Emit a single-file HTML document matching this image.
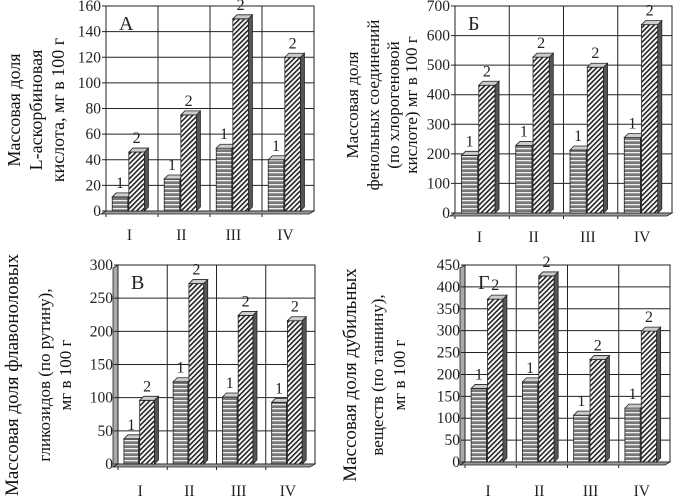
<!DOCTYPE html>
<html><head><meta charset="utf-8"><style>
body{margin:0;background:#fff}
svg{display:block;font-family:"Liberation Serif","DejaVu Serif",serif}
</style></head><body>
<svg id="c" width="682" height="502" viewBox="0 0 682 502">
<defs>
<pattern id="hs" width="6" height="4" patternUnits="userSpaceOnUse"><rect width="6" height="4" fill="#777"/><rect width="6" height="1.3" fill="#eee"/></pattern>
<pattern id="dg" width="3.5" height="3.5" patternUnits="userSpaceOnUse" patternTransform="rotate(45)"><rect width="3.5" height="3.5" fill="#fff"/><rect width="1.6" height="3.5" fill="#222"/></pattern>
</defs>
<g id="root"></g>
<g fill="#111">
<text transform="translate(20,110) rotate(-90)" text-anchor="middle" font-size="18">Массовая доля</text>
<text transform="translate(42,110) rotate(-90)" text-anchor="middle" font-size="18">L-аскорбиновая</text>
<text transform="translate(64,110) rotate(-90)" text-anchor="middle" font-size="18">кислота, мг в 100 г</text>
<text transform="translate(358,105) rotate(-90)" text-anchor="middle" font-size="17">Массовая доля</text>
<text transform="translate(379,105) rotate(-90)" text-anchor="middle" font-size="17">фенольных соединений</text>
<text transform="translate(399,105) rotate(-90)" text-anchor="middle" font-size="17">(по хлорогеновой</text>
<text transform="translate(417,105) rotate(-90)" text-anchor="middle" font-size="17">кислоте) мг в 100 г</text>
<text transform="translate(18,375) rotate(-90)" text-anchor="middle" font-size="19">Массовая доля флавоноловых</text>
<text transform="translate(50,375) rotate(-90)" text-anchor="middle" font-size="17">гликозидов (по рутину),</text>
<text transform="translate(71,375) rotate(-90)" text-anchor="middle" font-size="17">мг в 100 г</text>
<text transform="translate(356,375) rotate(-90)" text-anchor="middle" font-size="19">Массовая доля дубильных</text>
<text transform="translate(383,375) rotate(-90)" text-anchor="middle" font-size="17">веществ (по таннину),</text>
<text transform="translate(405,375) rotate(-90)" text-anchor="middle" font-size="17">мг в 100 г</text>
</g>
</svg>
<script>
const categories = ["I","II","III","IV"];
const aSeries1 = [11,25,49,40];
const aSeries2 = [46,75,150,120];
const aTicks = [0,20,40,60,80,100,120,140,160];
const bSeries1 = [195,228,213,255];
const bSeries2 = [432,527,493,637];
const bTicks = [0,100,200,300,400,500,600,700];
const vSeries1 = [38,124,101,93];
const vSeries2 = [96,272,224,216];
const vTicks = [0,50,100,150,200,250,300];
const gSeries1 = [168,183,107,123];
const gSeries2 = [372,425,234,299];
const gTicks = [0,50,100,150,200,250,300,350,400,450];

const NS="http://www.w3.org/2000/svg";
const root=document.getElementById('root');
function el(t,a,p){const e=document.createElementNS(NS,t);for(const k in a)e.setAttribute(k,a[k]);(p||root).appendChild(e);return e;}

function panel(id,letter,x0,x1,yTop,yBot,ticks,s1,s2,catY,wall){
  const g=el('g',{});
  
  
  const max=ticks[ticks.length-1];
  const y=v=>yBot-(v/max)*(yBot-yTop);
  const gw=(x1-x0)/categories.length;
  if(wall){const w=el('polygon',{points:`${x0-5},${yTop+3} ${x0},${yTop} ${x0},${yBot} ${x0-5},${yBot+3}`,fill:'#aaa',stroke:'#222','stroke-width':0.8},g);}
  const fr=el('rect',{x:x0,y:yTop,width:x1-x0,height:yBot-yTop,fill:'none',stroke:'#222','stroke-width':1},g);
  
  ticks.forEach(t=>{
    const l=el('line',{x1:x0-4,x2:x1,y1:y(t),y2:y(t),stroke:'#222','stroke-width':1},g);
    
    const tx=el('text',{x:x0-5,y:y(t)+5,'text-anchor':'end','font-size':15.5,fill:'#222'},g);
    tx.textContent=t;
    
  });
  categories.forEach((c,i)=>{
    const l=el('line',{x1:x0+gw*i,x2:x0+gw*i,y1:yTop,y2:yBot+6,stroke:'#222','stroke-width':1},g);
    
  });
  const fl=el('polygon',{points:`${x0-5},${yBot+3} ${x1-5},${yBot+3} ${x1},${yBot} ${x0},${yBot}`,fill:'#999',stroke:'#222','stroke-width':0.8},g);
  
  const bw=gw*0.3;
  function bar(xl,v,fill,lab){
    const yt=y(v),d=4;
    const f=el('rect',{x:xl,y:yt,width:bw,height:yBot-yt,fill:fill,stroke:'#222','stroke-width':0.8},g);
    
    const s=el('polygon',{points:`${xl+bw},${yt} ${xl+bw+d},${yt-d} ${xl+bw+d},${yBot-d} ${xl+bw},${yBot}`,fill:'#555',stroke:'#222','stroke-width':0.8},g);
    
    const t=el('polygon',{points:`${xl},${yt} ${xl+d},${yt-d} ${xl+bw+d},${yt-d} ${xl+bw},${yt}`,fill:'#ccc',stroke:'#222','stroke-width':0.8},g);
    
    const tx=el('text',{x:xl+bw/2,y:yt-9,'text-anchor':'middle','font-size':16,fill:'#222'},g);
    tx.textContent=lab;
    
  }
  categories.forEach((c,i)=>{
    const gx=x0+gw*i;
    bar(gx+gw*0.12,s1[i],'url(#hs)','1');
    bar(gx+gw*0.12+bw+1,s2[i],'url(#dg)','2');
    const tx=el('text',{x:gx+gw*0.45,y:catY,'text-anchor':'middle','font-size':15.5,fill:'#222'},g);
    tx.textContent=c;
    
  });
  const L=el('text',{x:x0+13,y:yTop+24,'font-size':20,fill:'#222'},g);
  L.textContent=letter;
  
}
panel('a','А',106,314,6,211,aTicks,aSeries1,aSeries2,240,false);
panel('b','Б',455,672,6,213,bTicks,bSeries1,bSeries2,242,false);
panel('v','В',118,315,265,464,vTicks,vSeries1,vSeries2,496,true);
panel('g','Г',465,670,265,462,gTicks,gSeries1,gSeries2,496,true);
</script>
</body></html>
